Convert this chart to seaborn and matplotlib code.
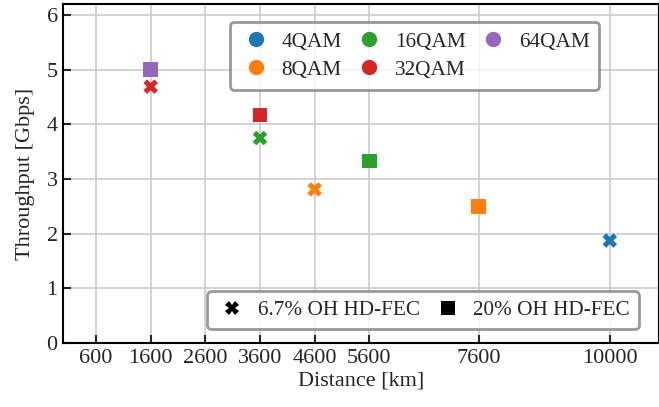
import pandas as pd
import matplotlib.pyplot as plt
import seaborn as sns
from matplotlib.lines import Line2D

sns.set_style('whitegrid')
plt.rcParams['font.family'] = ['Liberation Serif', 'DejaVu Serif']
plt.rcParams['mathtext.fontset'] = 'stix'

# data
distance = [1600, 1600, 3600, 3600, 4600, 5600, 7600, 10000]
throughput = [5.0, 4.69, 4.17, 3.75, 2.81, 3.33, 2.5, 1.875]
modulation = ['64QAM', '32QAM', '32QAM', '16QAM', '8QAM', '16QAM', '8QAM', '4QAM']
fec = ['20% OH HD-FEC', '6.7% OH HD-FEC', '20% OH HD-FEC', '6.7% OH HD-FEC',
       '6.7% OH HD-FEC', '20% OH HD-FEC', '20% OH HD-FEC', '6.7% OH HD-FEC']
mod_order = ['4QAM', '8QAM', '16QAM', '32QAM', '64QAM']
fec_order = ['6.7% OH HD-FEC', '20% OH HD-FEC']
xticks = [600, 1600, 2600, 3600, 4600, 5600, 7600, 10000]

df = pd.DataFrame({'Distance': distance, 'Throughput': throughput,
                   'Modulation': modulation, 'FEC': fec})
palette = dict(zip(mod_order, sns.color_palette('tab10', 5)))
markers = {'6.7% OH HD-FEC': 'X', '20% OH HD-FEC': 's'}

fig = plt.figure(figsize=(6.59, 4.07), dpi=100)
ax = fig.add_axes([0.096, 0.157, 0.904, 0.833])
sns.scatterplot(data=df, x='Distance', y='Throughput', hue='Modulation',
                style='FEC', hue_order=mod_order, style_order=fec_order,
                palette=palette, markers=markers, s=110, linewidth=0,
                legend=False, ax=ax, zorder=3)

ax.set_xlim(0, 10900)
ax.set_ylim(0, 6.2)
ax.set_xticks(xticks)
ax.set_yticks(range(7))
ax.set_xlabel('Distance [km]', fontsize=16, labelpad=3)
ax.set_ylabel('Throughput [Gbps]', fontsize=16, labelpad=8)
ax.tick_params(axis='both', direction='in', length=6, width=1.5, labelsize=16,
               bottom=True, left=True, pad=4)
ax.grid(True, color='#cccccc', linewidth=1.2)
for side in ['left', 'bottom', 'top', 'right']:
    ax.spines[side].set_color('black')
    ax.spines[side].set_linewidth(1.5)

h1 = [Line2D([], [], marker='o', linestyle='', color=palette[m], markersize=10,
             label=m) for m in mod_order]
leg1 = ax.legend(handles=h1, ncol=3, loc='upper left',
                 bbox_to_anchor=(0.28, 0.947), fontsize=15.3, frameon=True,
                 handletextpad=0.45, columnspacing=0.55, borderpad=0.47,
                 labelspacing=0.37, handlelength=1.5, borderaxespad=0)
leg1.get_frame().set_edgecolor('gray')
leg1.get_frame().set_linewidth(2)
ax.add_artist(leg1)

h2 = [Line2D([], [], marker=markers[f], linestyle='', color='black',
             markersize=10, markeredgewidth=0, label=f) for f in fec_order]
leg2 = ax.legend(handles=h2, ncol=2, loc='lower left',
                 bbox_to_anchor=(0.242, 0.041), fontsize=15.3, frameon=True,
                 handletextpad=0.45, columnspacing=0.55, borderpad=0.42,
                 handlelength=1.5, borderaxespad=0)
leg2.get_frame().set_edgecolor('gray')
leg2.get_frame().set_linewidth(2)

plt.savefig('out.png', dpi=100)
